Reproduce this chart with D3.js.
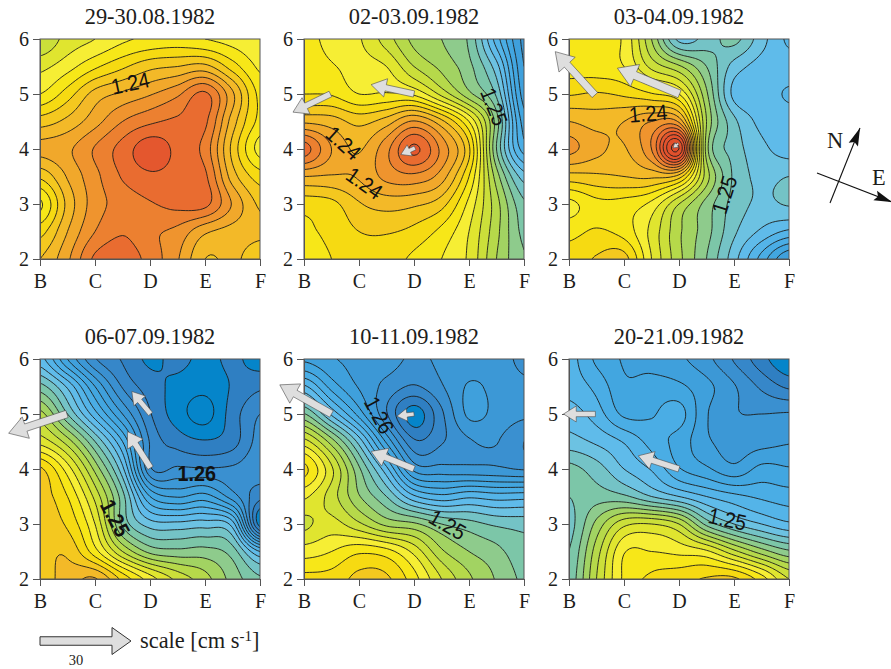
<!DOCTYPE html>
<html>
<head>
<meta charset="utf-8">
<script src="https://cdn.jsdelivr.net/npm/d3@7"></script>
<style>
  html, body { margin: 0; background: #fff; }
  svg { display: block; }
</style>
</head>
<body>
<svg width="891" height="669"></svg>
<script>
const WIDTH = 891
const HEIGHT = 669
const PLOT = 220

const stations = ["B", "C", "D", "E", "F"]
const depths = [6, 5, 4, 3, 2]
const titles = ["29-30.08.1982", "02-03.09.1982", "03-04.09.1982", "06-07.09.1982", "10-11.09.1982", "20-21.09.1982"]
const panelX = [40, 304, 569, 40, 304, 569]
const panelY = [39, 39, 39, 359, 359, 359]

// dynamic height in mm above 1.2 m
// rows run from 6 down to 2, columns from B to F, half a station apart
const h0829 = [
  [47, 45.6, 45, 44.2, 43.8, 43.6, 44, 44.4, 44.8],
  [45.3, 44.4, 43.2, 42.2, 41.3, 41, 40.7, 42.5, 44.2],
  [44, 42.5, 40.6, 39.8, 39.1, 38.2, 36.8, 39.8, 43.3],
  [41.5, 40.7, 39.4, 38, 37.2, 36.8, 36.8, 40.5, 43.3],
  [39.7, 39.2, 37.9, 36.6, 35.4, 36.3, 37.4, 41.3, 44.4],
  [41.8, 39.9, 38.3, 36.9, 36.2, 36.4, 36.8, 40.5, 42.5],
  [44.2, 40.7, 38.5, 37.6, 37.1, 36.7, 36.7, 39.1, 41.2],
  [42.4, 40, 38, 37.1, 37.8, 38.3, 39.8, 40.4, 40.8],
  [41, 39.2, 36.8, 36.4, 37.4, 38.9, 41, 40.8, 41.6]
]
const h0902 = [
  [43.7, 44.3, 44.9, 46.5, 48.3, 49, 50.2, 54.5, 58.3],
  [43.5, 43.9, 44.5, 45, 47, 48.3, 49.7, 52.6, 58],
  [43, 43.1, 44, 43.9, 44.2, 46.3, 48.7, 51.2, 57.5],
  [40.2, 40.5, 41.3, 40.5, 38.9, 40.7, 44, 49.5, 56.5],
  [36.5, 39, 40.1, 38.3, 35.8, 38.3, 41.8, 50, 55.5],
  [40, 40.1, 39.9, 38.7, 38.3, 39.5, 43, 48.5, 52.5],
  [42.6, 42.3, 41.1, 40.6, 40.8, 41.6, 44.3, 47.6, 50.8],
  [43.2, 42.7, 42, 41.9, 42.3, 43.3, 45, 47.7, 50.3],
  [43.5, 43, 42.4, 42.6, 43.2, 44, 45.2, 48, 49.9]
]
const h0903 = [
  [43.7, 43.7, 44.2, 48, 52.3, 51.6, 50.7, 52.6, 54.2],
  [43.5, 43.6, 44, 46.3, 47.8, 50, 52.4, 53.4, 53.6],
  [42.1, 41.9, 42.2, 42.9, 44, 48.8, 53.3, 53.6, 54.1],
  [40, 40.4, 40, 39, 39.2, 48, 51.7, 53.3, 53.6],
  [38.7, 39.7, 40.1, 38, 33, 48.5, 51.4, 52.7, 53.5],
  [41.4, 41.2, 41, 40.8, 41.5, 47.5, 51.2, 52.2, 52],
  [44.3, 43.3, 43.4, 44.3, 47, 49.4, 51.4, 52.2, 51.9],
  [43.3, 42.9, 43.4, 45.3, 47.8, 49.6, 51.8, 53.2, 54.2],
  [42.6, 41.9, 41.6, 45, 47.7, 50, 52.6, 55.4, 58]
]
const h0906 = [
  [53.6, 57, 59.9, 61.1, 62.2, 61.7, 62.3, 61.8, 62.5],
  [50.6, 53.2, 57, 60.1, 61.5, 62.3, 62.7, 61.9, 61.2],
  [47.6, 51, 54.6, 58, 60.9, 62.5, 63.4, 61.5, 60],
  [45.4, 47.5, 51, 55, 60.1, 61.4, 61.9, 61.4, 59.6],
  [41.8, 44.5, 48.3, 52.7, 59.8, 59.8, 59.9, 59.8, 59.4],
  [41.5, 43, 46.3, 50.6, 56, 57.1, 56.6, 58.5, 60.7],
  [41.4, 42.2, 45, 50.2, 52.5, 52.7, 52.5, 53.5, 62.5],
  [41.3, 41.2, 43.6, 47, 49.3, 49.7, 49.6, 50.5, 54],
  [41.4, 40.6, 39.9, 42.3, 44.5, 46.3, 47.6, 49.4, 50.8]
]
const h0910 = [
  [57.2, 57.9, 58.3, 58.5, 59.2, 58.8, 58.6, 58.5, 59.3],
  [53.8, 56.4, 58.1, 59.3, 60.1, 59.1, 57.9, 58.3, 58.8],
  [49.9, 53.2, 56.4, 59.9, 62.5, 60.2, 57.8, 58.3, 58.8],
  [45.6, 48.5, 52.4, 57.2, 60.8, 60.1, 59.1, 58.95, 60],
  [42.7, 45.8, 49.8, 53.7, 58.3, 58.6, 58.7, 58.8, 59.1],
  [44.8, 46.5, 48.9, 51, 53.8, 54.7, 54.2, 54.5, 54.4],
  [46.2, 45.6, 46.8, 48.3, 48.8, 50, 50.6, 51.2, 51.4],
  [44.5, 44, 43.2, 43.6, 45.3, 47.8, 49, 49.7, 50.7],
  [42.7, 42.6, 41.7, 41.8, 43.6, 46, 47.8, 49.1, 50.2]
]
const h0920 = [
  [54.6, 56.2, 57.1, 57.4, 57.8, 58.7, 60.1, 61.6, 63],
  [54.4, 55.3, 56.8, 56.6, 56.8, 57.7, 58.9, 60.2, 61.2],
  [53.5, 54.5, 56.2, 56.1, 55.6, 57.9, 58.9, 59, 58.9],
  [52.6, 53.2, 54.1, 55.4, 56.4, 57.8, 58.5, 58.4, 58.1],
  [50.7, 51.5, 53, 54.1, 55.9, 56.8, 57.7, 56.7, 56.9],
  [51, 50.5, 50.8, 52, 53, 54, 54.7, 55.2, 55.5],
  [51.4, 48.7, 46.3, 46, 47, 50.3, 52, 53, 53.8],
  [51, 47.5, 44.1, 44, 44.3, 44.8, 46.7, 48.5, 49.8],
  [50.7, 47, 43.8, 42.8, 42.4, 41.9, 41.8, 43.5, 46]
]
const heights = [h0829, h0902, h0903, h0906, h0910, h0920]

// one colour per band, band n runs from n to n+1
const firstLevel = 30
const bandColors = [
  "#df4a2c", "#e04c2c", "#e04e2c", "#e1502c", "#e2522d", "#e4572e", "#e96c30", "#ec8030",
  "#ef942e", "#f1a82b", "#f3b928", "#f4c81f", "#f6da12", "#f7e718", "#f6ee34", "#e0e52f",
  "#cbdf3a", "#b6d94a", "#a2d362", "#8ecb8c", "#7cc6a8", "#74c3c6", "#6cc2e2", "#5fbbea",
  "#54b4e8", "#4aade5", "#42a6e0", "#3fa0dc", "#3c98d6", "#3a90d0", "#3687c9", "#2f7fc2",
  "#0585ca", "#0585ca", "#0585ca"
]
const levels = bandColors.map((c, i) => firstLevel + i)

// [panel, station x, depth y, angle, text, bold]
const contourLabels = [
  [0, 1.64, 5.2, -12, "1.24", false],
  [1, 0.72, 4.11, 42, "1.24", false],
  [1, 1.1, 3.38, 35, "1.24", false],
  [1, 3.46, 4.77, 68, "1.25", false],
  [2, 1.44, 4.65, -5, "1.24", false],
  [2, 2.82, 3.17, -72, "1.25", false],
  [3, 2.85, 3.93, 0, "1.26", true],
  [3, 1.37, 3.11, 62, "1.25", true],
  [4, 1.37, 4.98, 62, "1.26", false],
  [4, 2.61, 2.99, 30, "1.25", false],
  [5, 2.88, 3.09, 12, "1.25", false]
]

// [panel, tail x, tail y, tip x, tip y]
const currents = [
  [1, 0.48, 5, -0.2, 4.67],
  [1, 2, 5, 1.22, 5.17],
  [1, 2.02, 4.02, 1.76, 3.9],
  [2, 0.47, 4.98, -0.25, 5.77],
  [2, 2.01, 5, 0.88, 5.47],
  [2, 1.99, 4.1, 1.89, 4.02],
  [3, 0.49, 5, -0.57, 4.65],
  [3, 2.01, 5, 1.67, 5.41],
  [3, 2.01, 4.02, 1.59, 4.68],
  [4, 0.5, 5, -0.44, 5.53],
  [4, 2, 5, 1.69, 4.96],
  [4, 2, 4, 1.22, 4.32],
  [5, 0.48, 5, -0.1, 5],
  [5, 2, 4, 1.26, 4.24]
]

const SERIF = "'Liberation Serif', 'Times New Roman', serif"
const SANS = "'Liberation Sans', Arial, sans-serif"

const svg = d3.select("svg")

// catmull-rom between the read values so the isolines come out round
function cubic(a, b, c, d, t) {
  return b + 0.5 * t * (c - a + t * (2 * a - 5 * b + 4 * c - d + t * (3 * (b - c) + d - a)))
}

function refine(grid, k) {
  const rows = grid.length, cols = grid[0].length
  const dx = (cols - 1) * k + 1, dy = (rows - 1) * k + 1
  const at = (r, c) => grid[Math.max(0, Math.min(rows - 1, r))][Math.max(0, Math.min(cols - 1, c))]
  const out = new Float64Array(dx * dy)
  for (let j = 0; j < dy; j++) {
    const r = Math.min(Math.floor(j / k), rows - 2), v = j / k - r
    for (let i = 0; i < dx; i++) {
      const c = Math.min(Math.floor(i / k), cols - 2), u = i / k - c
      const line = [-1, 0, 1, 2].map(n => cubic(at(r + n, c - 1), at(r + n, c), at(r + n, c + 1), at(r + n, c + 2), u))
      out[j * dx + i] = cubic(line[0], line[1], line[2], line[3], v)
    }
  }
  return { values: out, dx, dy }
}

function blockArrow(x0, y0, x1, y1, shaft, headLen, headW) {
  const len = Math.hypot(x1 - x0, y1 - y0)
  const ux = (x1 - x0) / len, uy = (y1 - y0) / len
  const nx = -uy, ny = ux
  const bx = x1 - ux * headLen, by = y1 - uy * headLen
  const p = [
    [x0 + nx * shaft / 2, y0 + ny * shaft / 2],
    [bx + nx * shaft / 2, by + ny * shaft / 2],
    [bx + nx * headW / 2, by + ny * headW / 2],
    [x1, y1],
    [bx - nx * headW / 2, by - ny * headW / 2],
    [bx - nx * shaft / 2, by - ny * shaft / 2],
    [x0 - nx * shaft / 2, y0 - ny * shaft / 2]
  ]
  return p.join(" ")
}

const K = 10

heights.forEach((grid, idx) => {
  const x = d3.scaleLinear().domain([0, 4]).range([0, PLOT])
  const y = d3.scaleLinear().domain([2, 6]).range([PLOT, 0])
  const g = svg.append("g").attr("transform", `translate(${panelX[idx]},${panelY[idx]})`)

  const fine = refine(grid, K)
  const contours = d3.contours().size([fine.dx, fine.dy]).thresholds(levels)(fine.values)
  const cellPx = PLOT / (fine.dx - 1)
  const path = d3.geoPath(d3.geoTransform({
    point(px, py) { this.stream.point((px - 0.5) * cellPx, (py - 0.5) * cellPx) }
  }))

  const clipId = "clip" + idx
  g.append("clipPath").attr("id", clipId).append("rect").attr("width", PLOT).attr("height", PLOT)

  const map = g.append("g").attr("clip-path", `url(#${clipId})`)
  map.append("rect").attr("width", PLOT).attr("height", PLOT).attr("fill", bandColors[0])
  map.selectAll("path.band").data(contours).join("path")
    .attr("class", "band")
    .attr("d", path)
    .attr("fill", (d, i) => bandColors[i])
  map.selectAll("path.line").data(contours.filter(d => d.coordinates.length)).join("path")
    .attr("class", "line")
    .attr("d", path)
    .attr("fill", "none")
    .attr("stroke", "#1d1d1b")
    .attr("stroke-width", 0.9)

  g.append("rect").attr("width", PLOT).attr("height", PLOT)
    .attr("fill", "none").attr("stroke", "#555").attr("stroke-width", 1)

  const bottom = g.append("g").attr("transform", `translate(0,${PLOT})`)
    .call(d3.axisBottom(x).tickValues(d3.range(5)).tickFormat(i => stations[i]).tickSize(7).tickSizeOuter(0))
  const left = g.append("g")
    .call(d3.axisLeft(y).tickValues(depths).tickFormat(d3.format("d")).tickSize(7).tickSizeOuter(0))
  ;[bottom, left].forEach(a => {
    a.select(".domain").attr("stroke", "#555")
    a.selectAll(".tick line").attr("stroke", "#555")
    a.selectAll("text").attr("fill", "#1d1d1b").attr("font-family", SERIF).attr("font-size", 20)
  })
  bottom.selectAll("text").attr("dy", "0.95em")
  left.selectAll("text").attr("dx", "-0.05em")

  g.append("text").attr("x", PLOT / 2).attr("y", -15)
    .attr("text-anchor", "middle").attr("font-family", SERIF).attr("font-size", 22.4)
    .attr("fill", "#1d1d1b").text(titles[idx])

  contourLabels.filter(d => d[0] === idx).forEach(d => {
    g.append("text")
      .attr("transform", `translate(${x(d[1])},${y(d[2])}) rotate(${d[3]}) scale(0.9,1)`)
      .attr("text-anchor", "middle").attr("dy", "0.36em")
      .attr("font-family", SANS).attr("font-size", 22)
      .attr("font-weight", d[5] ? "bold" : "normal")
      .attr("fill", "#111").text(d[4])
  })

  currents.filter(d => d[0] === idx).forEach(d => {
    const x0 = x(d[1]), y0 = y(d[2]), x1 = x(d[3]), y1 = y(d[4])
    const len = Math.hypot(x1 - x0, y1 - y0)
    const head = Math.min(7 + 0.18 * len, len * 0.7)
    g.append("polygon")
      .attr("points", blockArrow(x0, y0, x1, y1, head * 0.42, head, head * 1.25))
      .attr("fill", "#dedede").attr("stroke", "#4a4a4a").attr("stroke-width", 0.6)
  })
})

// scale arrow
svg.append("polygon")
  .attr("points", blockArrow(40, 641, 131, 641, 8.5, 19, 27))
  .attr("fill", "#dedede").attr("stroke", "#333").attr("stroke-width", 1)
svg.append("text").attr("x", 76).attr("y", 665).attr("text-anchor", "middle")
  .attr("font-family", SERIF).attr("font-size", 14.5).attr("fill", "#1d1d1b").text("30")
const scaleText = svg.append("text").attr("x", 140).attr("y", 648)
  .attr("font-family", SERIF).attr("font-size", 22.4).attr("fill", "#1d1d1b")
scaleText.append("tspan").text("scale [cm s")
scaleText.append("tspan").attr("dy", -7).attr("font-size", 15).text("-1")
scaleText.append("tspan").attr("dy", 7).text("]")

// north and east
function compassArrow(x0, y0, x1, y1) {
  svg.append("line").attr("x1", x0).attr("y1", y0).attr("x2", x1).attr("y2", y1)
    .attr("stroke", "#111").attr("stroke-width", 1.1)
  const len = Math.hypot(x1 - x0, y1 - y0)
  const ux = (x1 - x0) / len, uy = (y1 - y0) / len
  const bx = x1 - ux * 18, by = y1 - uy * 18
  svg.append("polygon")
    .attr("points", [[x1, y1], [bx - uy * 5, by + ux * 5], [bx + ux * 3, by + uy * 3], [bx + uy * 5, by - ux * 5]].join(" "))
    .attr("fill", "#111")
}
compassArrow(830, 203, 860, 128)
compassArrow(817, 173, 892, 202)
svg.append("text").attr("x", 827).attr("y", 148).attr("font-family", SERIF).attr("font-size", 22.4).attr("fill", "#1d1d1b").text("N")
svg.append("text").attr("x", 872).attr("y", 185).attr("font-family", SERIF).attr("font-size", 22.4).attr("fill", "#1d1d1b").text("E")
</script>
</body>
</html>
